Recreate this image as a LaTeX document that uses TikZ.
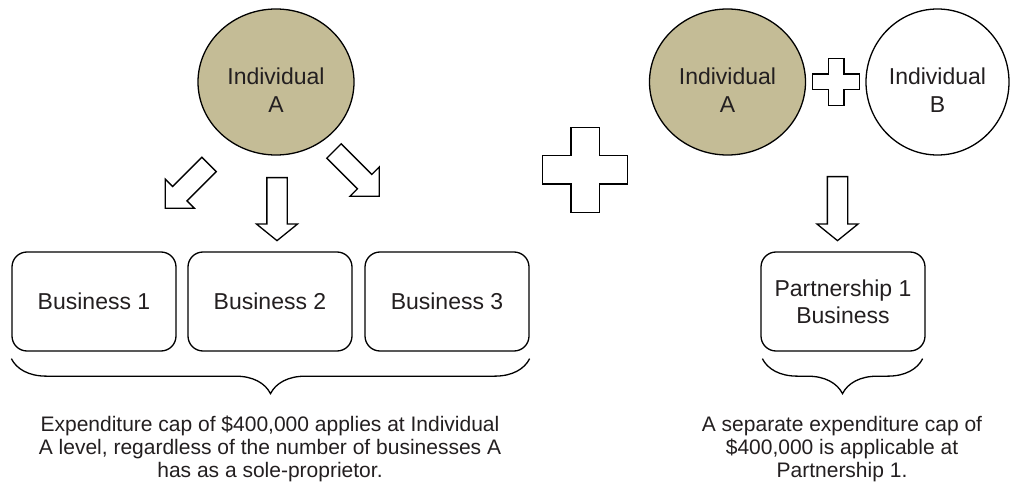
\documentclass[tikz,border=0pt]{standalone}
\usepackage{fontspec}
\setmainfont{Liberation Sans}
\usetikzlibrary{shapes.geometric,shapes.arrows,decorations.pathreplacing}
\definecolor{indfill}{RGB}{196,188,150}
\definecolor{txt}{RGB}{35,31,32}
\begin{document}
\begin{tikzpicture}[x=1pt, y=1pt,
  person/.style={ellipse, draw, line width=1.3pt, minimum width=156pt, minimum height=146pt, inner sep=0pt},
  persontext/.style={align=center, text=txt, font=\fontsize{23}{28}\selectfont, yshift=-8pt},
  biz/.style={rectangle, rounded corners=15pt, draw, line width=1.3pt, minimum width=164pt, minimum height=99pt, align=center, text=txt, font=\fontsize{23}{27}\selectfont},
  blockarrow/.style={single arrow, draw, line width=1.3pt, inner sep=9.5pt, single arrow head extend=10.5pt, anchor=tail},
  capbrace/.style={decorate, decoration={brace, mirror, amplitude=35pt}, line width=1.3pt},
  note/.style={align=center, anchor=north, inner sep=0pt, text=txt, font=\fontsize{21}{23}\selectfont},
  plussign/.pic={\draw[line width=1.3pt, fill=white] (-0.5,1.5) -- (0.5,1.5) -- (0.5,0.5) -- (1.5,0.5) -- (1.5,-0.5) -- (0.5,-0.5) -- (0.5,-1.5) -- (-0.5,-1.5) -- (-0.5,-0.5) -- (-1.5,-0.5) -- (-1.5,0.5) -- (-0.5,0.5) -- cycle;}
]
\fill[white] (0,0) rectangle (1010,491);
\node[person, fill=indfill, label={[persontext]center:Individual\\A}] (indA) at (276,409) {};
\node[blockarrow, minimum height=62pt, single arrow tip angle=90, rotate=-135] (arrL) at (209.5,327) {};
\node[blockarrow, minimum height=63pt, single arrow tip angle=102, rotate=-90] (arrM) at (277,314) {};
\node[blockarrow, minimum height=64pt, single arrow tip angle=90, rotate=-45] (arrR) at (333.5,340.5) {};
\node[biz] (biz1) at (94,189.5) {Business 1};
\node[biz] (biz2) at (270,189.5) {Business 2};
\node[biz] (biz3) at (447,189.5) {Business 3};
\draw[capbrace] ([yshift=-7pt]biz1.south west) -- ([yshift=-7pt]biz3.south east);
\node[note] (noteL) at (270,75) {Expenditure cap of \$400,000 applies at Individual\\A level, regardless of the number of businesses A\\has as a sole-proprietor.};
\pic[scale=28.3] (bigplus) at (585,321) {plussign};
\node[person, fill=indfill, label={[persontext]center:Individual\\A}] (pindA) at (727.5,409) {};
\node[person, minimum width=143pt, label={[persontext]center:Individual\\B}] (pindB) at (937.5,409) {};
\pic[scale=15.7] (smallplus) at (836,409) {plussign};
\node[blockarrow, minimum height=64pt, single arrow tip angle=102, rotate=-90] (arrP) at (837.5,315) {};
\node[biz] (pbiz) at (843,189.5) {Partnership 1\\Business};
\draw[capbrace] ([xshift=2pt,yshift=-7pt]pbiz.south west) -- ([xshift=-3pt,yshift=-7pt]pbiz.south east);
\node[note] (noteR) at (842,75) {A separate expenditure cap of\\\$400,000 is applicable at\\Partnership 1.};
\end{tikzpicture}
\end{document}
